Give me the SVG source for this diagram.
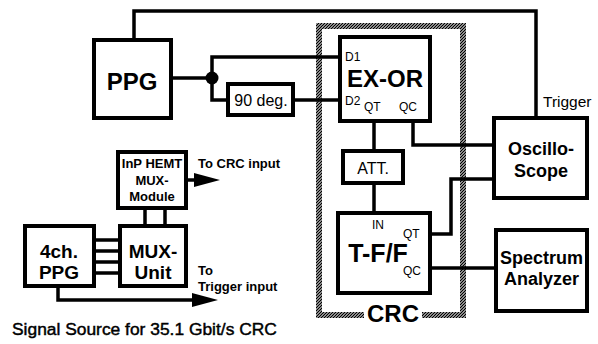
<svg xmlns="http://www.w3.org/2000/svg" width="598" height="344" viewBox="0 0 598 344">
<style>
.box{fill:#fff;stroke:#000;stroke-width:4}
.w{fill:none;stroke:#000;stroke-width:3.5}
text{font-family:"Liberation Sans",Arial,sans-serif;fill:#000}
.b{font-weight:bold}
.m{text-anchor:middle}
</style>
<defs>
<pattern id="hatch" patternUnits="userSpaceOnUse" width="3" height="3">
<path d="M-1,1 L1,-1 M0,3 L3,0 M2,4 L4,2" stroke="#000" stroke-width="1.3"/>
</pattern>
<marker id="arr" markerUnits="userSpaceOnUse" markerWidth="30" markerHeight="16" viewBox="0 -8 30 16" refX="11" refY="0" orient="auto">
<path d="M0,-7 L26,0 L0,7 Z" fill="#000"/>
</marker>
</defs>
<rect width="598" height="344" fill="#fff"/>

<g id="crc">
<rect x="319" y="26" width="144" height="289" fill="none" stroke="url(#hatch)" stroke-width="6"/>
<rect x="364" y="306" width="58" height="16" fill="#fff"/>
<text class="b m" x="393" y="322" font-size="24">CRC</text>
</g>

<g id="connectors">
<path class="w" d="M134,40 V11 H536 V118"/>
<path class="w" d="M172,78 H212"/>
<path class="w" d="M212,78 V57 H340"/>
<path class="w" d="M212,78 V100 H228"/>
<path class="w" d="M293,100 H340"/>
<circle cx="212" cy="78" r="6.5" fill="#000"/>
<path class="w" d="M374,121 V151"/>
<path class="w" d="M374,183 V213"/>
<path class="w" d="M413,121 V145 H494"/>
<path class="w" d="M430,234 H451 V179 H494"/>
<path class="w" d="M430,268 H496"/>
<path class="w" d="M145,208 V226 M165,208 V226"/>
<path class="w" d="M94,240 H120 M94,251 H120 M94,262 H120 M94,273 H120"/>
<path class="w" d="M186,180 H205" marker-end="url(#arr)"/>
<path class="w" d="M58,286 V300 H203" marker-end="url(#arr)"/>
</g>

<g id="ppg">
<rect class="box" x="94" y="40" width="77" height="78"/>
<text class="b m" x="132" y="90" font-size="24">PPG</text>
</g>

<g id="deg90">
<rect class="box" x="228" y="84" width="65" height="31" stroke-width="3.5"/>
<text class="m" x="261" y="106" font-size="16">90 deg.</text>
</g>

<g id="exor">
<rect class="box" x="340" y="37" width="90" height="84"/>
<text x="345" y="61" font-size="12">D1</text>
<text class="b m" x="385" y="87" font-size="24">EX-OR</text>
<text x="345" y="105" font-size="12">D2</text>
<text x="364" y="111" font-size="12">QT</text>
<text x="399" y="111" font-size="12">QC</text>
</g>

<g id="att">
<rect class="box" x="343" y="151" width="60" height="32"/>
<text class="m" x="373" y="174" font-size="16">ATT.</text>
</g>

<g id="tff">
<rect class="box" x="338" y="213" width="92" height="80"/>
<text x="372" y="229" font-size="12">IN</text>
<text x="403" y="238" font-size="12">QT</text>
<text class="b m" x="378" y="262" font-size="25">T-F/F</text>
<text x="403" y="275" font-size="12">QC</text>
</g>

<g id="osc">
<rect class="box" x="494" y="118" width="93" height="80"/>
<text class="b m" x="541" y="155" font-size="18">Oscillo-</text>
<text class="b m" x="541" y="177" font-size="18">Scope</text>
</g>
<text x="543" y="107" font-size="15.5">Trigger</text>

<g id="spectrum">
<rect class="box" x="496" y="230" width="91" height="81"/>
<text class="b m" x="541.5" y="264" font-size="18">Spectrum</text>
<text class="b m" x="541.5" y="285" font-size="18">Analyzer</text>
</g>

<g id="inp">
<rect class="box" x="118" y="152" width="68" height="56"/>
<text class="b m" x="152" y="168" font-size="13">InP HEMT</text>
<text class="b m" x="152" y="185" font-size="13">MUX-</text>
<text class="b m" x="152" y="201" font-size="13">Module</text>
</g>
<text class="b" x="198" y="168" font-size="13">To CRC input</text>

<g id="mux">
<rect class="box" x="120" y="226" width="66" height="60"/>
<text class="b m" x="153" y="258" font-size="19">MUX-</text>
<text class="b m" x="153" y="279" font-size="19">Unit</text>
</g>

<g id="ppg4">
<rect class="box" x="25" y="226" width="69" height="60"/>
<text class="b m" x="59" y="258" font-size="19">4ch.</text>
<text class="b m" x="59" y="279" font-size="19">PPG</text>
</g>
<text class="b" x="198" y="275" font-size="13">To</text>
<text class="b" x="198" y="291" font-size="13">Trigger input</text>

<text x="12" y="335" font-size="17.4" stroke="#000" stroke-width="0.45">Signal Source for 35.1 Gbit/s CRC</text>
</svg>
